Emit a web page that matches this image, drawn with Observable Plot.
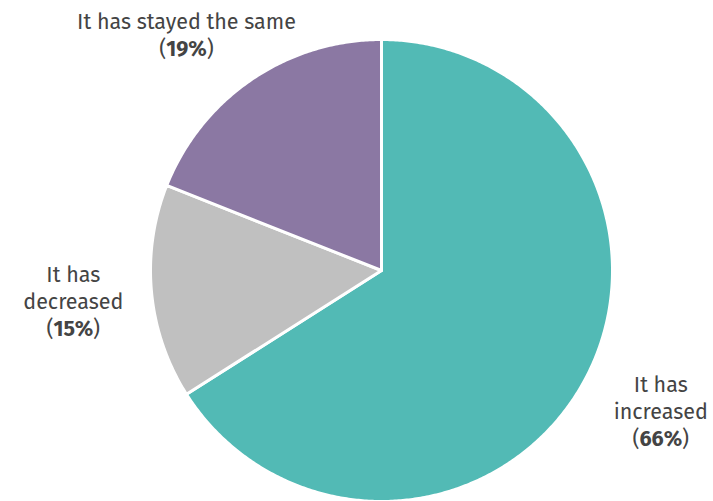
<!DOCTYPE html>
<html>
<head>
<meta charset="utf-8">
<script src="https://cdn.jsdelivr.net/npm/d3@7"></script>
<script src="https://cdn.jsdelivr.net/npm/@observablehq/plot@0.6"></script>
<style>
  html, body { margin: 0; padding: 0; background: #fff; }
  #chart svg { display: block; }
</style>
</head>
<body>
<div id="chart"></div>
<script>
// Data, in drawing order clockwise from 12 o'clock
const categories = ["It has increased", "It has decreased", "It has stayed the same"];
const labels = ["It has\nincreased", "It has\ndecreased", "It has stayed the same"];
const values = [66, 15, 19];
const colors = ["#52BAB5", "#C0C0C0", "#8B78A3"];

const total = d3.sum(values);
const W = 713, H = 501;

// Build slice outlines (polygons in unit-circle coordinates) from the values
const slices = [];
const labelRows = [];
let acc = 0;
values.forEach((v, i) => {
  const a0 = acc / total * 2 * Math.PI;
  acc += v;
  const a1 = acc / total * 2 * Math.PI;
  slices.push({cat: categories[i], x: 0, y: 0});
  const n = Math.max(2, Math.ceil((a1 - a0) / (Math.PI / 360)));
  for (let k = 0; k <= n; k++) {
    const a = a0 + (a1 - a0) * k / n;
    slices.push({cat: categories[i], x: Math.sin(a), y: Math.cos(a)});
  }
  slices.push({cat: categories[i], x: 0, y: 0});
  const am = (a0 + a1) / 2;
  labelRows.push({
    cat: categories[i],
    text: labels[i] + "\n(" + v + "%)",
    x: 1.34 * Math.sin(am),
    y: 1.34 * Math.cos(am)
  });
});

// small label nudges (pixels), matching the reference placement
const nudges = {"It has increased": [8, -9], "It has decreased": [0, 1], "It has stayed the same": [-21, 19]};

const chart = Plot.plot({
  width: W,
  height: H,
  margin: 0,
  style: {background: "#fff", fontFamily: "'Fira Sans', 'Noto Sans', 'Open Sans', sans-serif"},
  x: {domain: [-1, 1], range: [150, 612], axis: null},
  y: {domain: [-1, 1], range: [501, 39], axis: null},
  color: {domain: categories, range: colors},
  marks: [
    Plot.line(slices, {
      x: "x", y: "y", z: "cat",
      fill: "cat",
      stroke: "#fff",
      strokeWidth: 3,
      strokeLinejoin: "round"
    }),
    ...labelRows.map(r => Plot.text([r], {
      x: "x", y: "y", text: "text",
      dx: nudges[r.cat][0], dy: nudges[r.cat][1],
      fontSize: 21.5,
      fontWeight: 400,
      lineHeight: 1.256,
      fill: "#444",
      textAnchor: "middle",
      lineAnchor: "middle"
    }))
  ]
});

// make the percentage bold inside the parentheses
chart.querySelectorAll("text tspan, text").forEach(el => {
  if (el.children.length) return;
  const m = /^\((\d+%)\)$/.exec(el.textContent);
  if (!m) return;
  el.textContent = "";
  el.appendChild(document.createTextNode("("));
  const b = document.createElementNS("http://www.w3.org/2000/svg", "tspan");
  b.setAttribute("font-weight", "bold");
  b.textContent = m[1];
  el.appendChild(b);
  el.appendChild(document.createTextNode(")"));
});

document.getElementById("chart").appendChild(chart);
</script>
</body>
</html>
